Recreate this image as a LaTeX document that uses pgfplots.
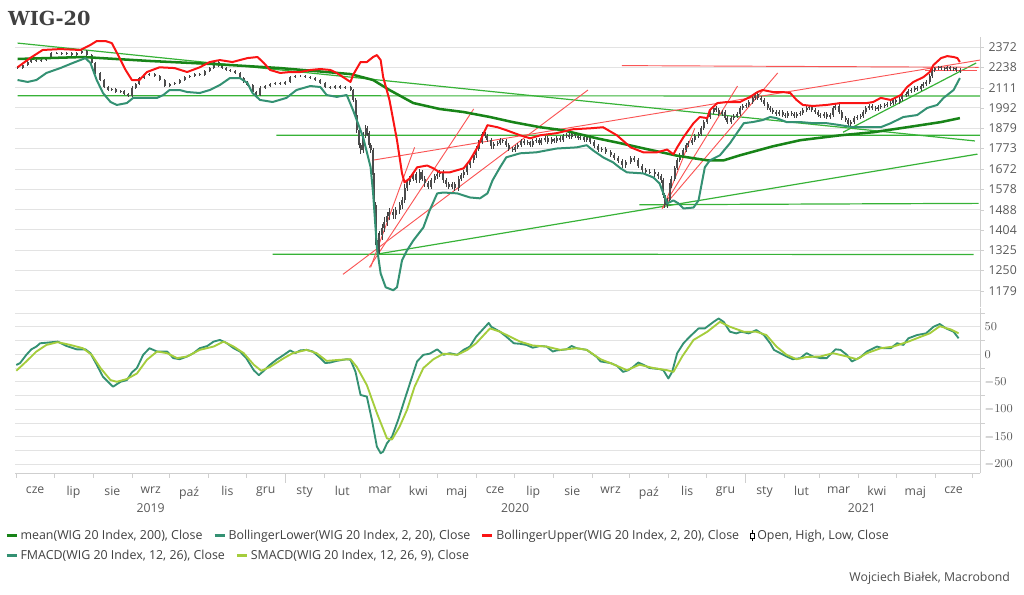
\documentclass[border=0pt]{standalone}
\usepackage{fontspec}
\setmainfont{Open Sans}
\newfontfamily\titlefont{DejaVu Serif}
\usepackage{pgfplots}
\usepackage{pgfplotstable}
\pgfplotsset{compat=1.18}

\definecolor{gridc}{HTML}{E3E3E3}
\definecolor{axisc}{HTML}{CFCFCF}
\definecolor{tickc}{HTML}{595959}
\definecolor{meanc}{RGB}{24,132,24}
\definecolor{lowc}{RGB}{52,145,115}
\definecolor{upc}{RGB}{250,20,20}
\definecolor{trendg}{RGB}{55,178,55}
\definecolor{trendr}{RGB}{250,85,85}
\definecolor{smacdc}{RGB}{165,205,60}

% WIG20 daily candles (sampled): day since 2019-06-01, open, high, low, close
\pgfplotstableread[row sep=\\]{
d o h l c\\
1 2240 2248 2225 2233\\
5 2233 2261 2225 2253\\
9 2253 2280 2245 2272\\
12 2272 2293 2264 2285\\
16 2285 2293 2271 2279\\
20 2279 2293 2271 2285\\
24 2285 2306 2277 2298\\
28 2298 2339 2290 2331\\
32 2331 2340 2323 2332\\
36 2332 2340 2317 2325\\
40 2325 2340 2317 2332\\
44 2332 2340 2310 2318\\
48 2318 2340 2310 2332\\
52 2332 2353 2324 2345\\
56 2345 2353 2310 2318\\
60 2318 2326 2258 2266\\
63 2266 2274 2194 2202\\
67 2202 2210 2150 2158\\
70 2158 2166 2107 2115\\
73 2115 2123 2089 2097\\
76 2097 2111 2089 2103\\
79 2103 2111 2077 2085\\
83 2085 2099 2077 2091\\
86 2091 2099 2065 2073\\
89 2073 2081 2054 2062\\
92 2062 2119 2054 2111\\
95 2111 2141 2103 2133\\
98 2133 2178 2125 2170\\
102 2170 2197 2162 2189\\
106 2189 2203 2181 2195\\
110 2195 2203 2175 2183\\
114 2183 2191 2150 2158\\
118 2158 2166 2113 2121\\
122 2121 2141 2113 2133\\
126 2133 2147 2125 2139\\
130 2139 2166 2131 2158\\
134 2158 2184 2150 2176\\
138 2176 2191 2168 2183\\
142 2183 2203 2175 2195\\
146 2195 2203 2181 2189\\
150 2189 2222 2181 2214\\
154 2214 2241 2206 2233\\
157 2233 2280 2225 2272\\
161 2272 2280 2238 2246\\
164 2246 2254 2225 2233\\
167 2233 2241 2213 2221\\
170 2221 2229 2206 2214\\
174 2214 2222 2194 2202\\
178 2202 2210 2162 2170\\
181 2170 2178 2138 2146\\
184 2146 2154 2119 2127\\
188 2127 2135 2077 2085\\
191 2085 2093 2059 2067\\
194 2067 2119 2059 2111\\
198 2111 2129 2103 2121\\
202 2121 2141 2113 2133\\
206 2133 2147 2125 2139\\
210 2139 2147 2125 2133\\
214 2133 2154 2125 2146\\
218 2146 2184 2138 2176\\
222 2176 2191 2168 2183\\
226 2183 2191 2175 2183\\
230 2183 2191 2168 2176\\
234 2176 2184 2162 2170\\
238 2170 2178 2150 2158\\
242 2158 2166 2131 2139\\
246 2139 2147 2107 2115\\
250 2115 2123 2103 2111\\
254 2111 2129 2103 2121\\
258 2121 2129 2103 2111\\
262 2111 2123 2103 2115\\
266 2115 2123 2089 2097\\
268 2097 2105 2025 2038\\
270 2038 2050 1940 1952\\
271 1952 1965 1855 1869\\
273 1869 1880 1775 1790\\
274 1790 1800 1745 1764\\
276 1764 1860 1750 1842\\
278 1842 1895 1830 1879\\
279 1879 1890 1840 1853\\
281 1853 1865 1775 1790\\
282 1790 1800 1750 1764\\
284 1764 1775 1630 1642\\
285 1642 1655 1490 1506\\
286 1506 1520 1345 1362\\
288 1362 1390 1300 1324\\
289 1324 1400 1310 1382\\
291 1382 1430 1365 1410\\
293 1410 1455 1395 1435\\
295 1435 1480 1420 1460\\
297 1460 1495 1445 1476\\
300 1476 1490 1450 1464\\
302 1464 1500 1450 1485\\
305 1485 1520 1470 1506\\
307 1506 1545 1490 1528\\
309 1528 1600 1515 1582\\
311 1582 1625 1570 1609\\
313 1609 1640 1595 1627\\
316 1627 1660 1615 1646\\
318 1646 1658 1605 1618\\
321 1618 1670 1605 1656\\
323 1656 1668 1615 1627\\
325 1627 1640 1590 1604\\
328 1604 1615 1578 1590\\
330 1590 1630 1578 1618\\
333 1618 1650 1605 1637\\
335 1637 1658 1625 1646\\
337 1646 1668 1634 1656\\
340 1656 1668 1605 1618\\
342 1618 1630 1588 1600\\
344 1600 1612 1578 1590\\
347 1590 1612 1578 1600\\
349 1600 1612 1570 1582\\
352 1582 1640 1570 1627\\
354 1627 1654 1615 1642\\
356 1642 1668 1630 1656\\
359 1656 1700 1645 1689\\
361 1689 1725 1678 1714\\
364 1714 1750 1703 1739\\
366 1739 1785 1728 1773\\
368 1773 1817 1762 1805\\
371 1805 1860 1795 1847\\
373 1847 1858 1826 1837\\
375 1837 1848 1805 1816\\
378 1816 1827 1773 1784\\
380 1784 1806 1773 1795\\
383 1795 1810 1784 1800\\
385 1800 1826 1790 1816\\
387 1816 1822 1800 1811\\
390 1811 1820 1780 1790\\
392 1790 1800 1762 1773\\
395 1773 1782 1754 1764\\
397 1764 1790 1754 1779\\
399 1779 1800 1769 1790\\
402 1790 1821 1780 1811\\
404 1811 1820 1790 1800\\
407 1800 1815 1790 1805\\
409 1805 1814 1780 1790\\
411 1790 1821 1780 1811\\
414 1811 1826 1800 1816\\
416 1816 1826 1790 1800\\
418 1800 1826 1790 1816\\
421 1816 1836 1806 1826\\
423 1826 1836 1795 1805\\
426 1805 1831 1795 1821\\
428 1821 1830 1801 1811\\
430 1811 1836 1801 1826\\
433 1826 1836 1806 1816\\
435 1816 1847 1806 1837\\
438 1837 1852 1827 1842\\
440 1842 1852 1822 1832\\
442 1832 1857 1822 1847\\
445 1847 1857 1827 1837\\
447 1837 1847 1816 1826\\
449 1826 1842 1816 1832\\
452 1832 1842 1806 1816\\
454 1816 1842 1806 1832\\
457 1832 1842 1795 1805\\
460 1805 1815 1774 1784\\
463 1784 1794 1754 1764\\
466 1764 1783 1754 1773\\
469 1773 1783 1744 1754\\
473 1754 1764 1729 1739\\
476 1739 1749 1714 1724\\
479 1724 1734 1699 1709\\
482 1709 1719 1679 1689\\
485 1689 1714 1679 1704\\
489 1704 1734 1694 1724\\
492 1724 1734 1704 1714\\
495 1714 1724 1675 1685\\
498 1685 1695 1655 1665\\
501 1665 1675 1646 1656\\
504 1656 1670 1646 1660\\
508 1660 1670 1636 1646\\
511 1646 1656 1627 1637\\
513 1637 1647 1608 1618\\
515 1618 1628 1540 1550\\
516 1550 1560 1495 1506\\
518 1506 1538 1496 1528\\
520 1528 1605 1518 1595\\
521 1595 1637 1585 1627\\
524 1627 1685 1617 1675\\
526 1675 1724 1665 1714\\
528 1714 1749 1704 1739\\
531 1739 1774 1729 1764\\
533 1764 1800 1754 1790\\
535 1790 1810 1780 1800\\
538 1800 1826 1790 1816\\
540 1816 1847 1806 1837\\
543 1837 1857 1827 1847\\
545 1847 1889 1837 1879\\
547 1879 1923 1869 1913\\
550 1913 1951 1903 1941\\
552 1941 1979 1931 1969\\
555 1969 2002 1959 1992\\
557 1992 2002 1970 1980\\
559 1980 1990 1948 1958\\
562 1958 1979 1948 1969\\
564 1969 1979 1925 1935\\
566 1935 1945 1903 1913\\
569 1913 1945 1903 1935\\
571 1935 1956 1925 1946\\
574 1946 1968 1936 1958\\
576 1958 2002 1948 1992\\
578 1992 2013 1982 2003\\
581 2003 2019 1993 2009\\
583 2009 2036 1999 2026\\
586 2026 2060 2016 2050\\
588 2050 2083 2040 2073\\
590 2073 2083 2040 2050\\
593 2050 2060 2028 2038\\
595 2038 2048 2005 2015\\
598 2015 2025 1982 1992\\
600 1992 2002 1970 1980\\
602 1980 1990 1959 1969\\
605 1969 1979 1948 1958\\
607 1958 1979 1948 1969\\
610 1969 1979 1942 1952\\
612 1952 1962 1936 1946\\
614 1946 1973 1936 1963\\
617 1963 1973 1948 1958\\
619 1958 1968 1936 1946\\
621 1946 1968 1936 1958\\
624 1958 1973 1948 1963\\
626 1963 1990 1953 1980\\
629 1980 2002 1970 1992\\
631 1992 2007 1982 1997\\
633 1997 2007 1970 1980\\
636 1980 1990 1959 1969\\
638 1969 1979 1942 1952\\
640 1952 1962 1936 1946\\
643 1946 1968 1936 1958\\
645 1958 1968 1931 1941\\
648 1941 1962 1931 1952\\
650 1952 2002 1942 1992\\
652 1992 2013 1982 2003\\
655 2003 2013 1959 1969\\
657 1969 1979 1925 1935\\
660 1935 1945 1914 1924\\
662 1924 1934 1892 1902\\
664 1902 1923 1892 1913\\
667 1913 1945 1903 1935\\
669 1935 1951 1925 1941\\
672 1941 1956 1931 1946\\
674 1946 1979 1936 1969\\
676 1969 2002 1959 1992\\
679 1992 2013 1982 2003\\
681 2003 2013 1982 1992\\
684 1992 2002 1976 1986\\
686 1986 2007 1976 1997\\
688 1997 2013 1987 2003\\
691 2003 2019 1993 2009\\
693 2009 2025 1999 2015\\
696 2015 2030 2005 2020\\
698 2020 2048 2010 2038\\
700 2038 2048 2016 2026\\
703 2026 2054 2016 2044\\
705 2044 2077 2034 2067\\
708 2067 2083 2057 2073\\
710 2073 2101 2063 2091\\
712 2091 2107 2081 2097\\
715 2097 2121 2087 2111\\
717 2111 2121 2093 2103\\
720 2103 2131 2093 2121\\
722 2121 2143 2111 2133\\
724 2133 2156 2123 2146\\
727 2146 2193 2136 2183\\
729 2183 2231 2173 2221\\
731 2221 2243 2211 2233\\
734 2233 2248 2223 2238\\
736 2238 2248 2223 2233\\
739 2233 2243 2217 2227\\
741 2227 2248 2217 2238\\
743 2238 2248 2217 2227\\
746 2227 2243 2217 2233\\
748 2233 2243 2211 2221\\
751 2221 2231 2204 2214\\
}\candles

\begin{document}
\begin{tikzpicture}
\path[use as bounding box] (0,0) rectangle (768pt,446.25pt);

\node[anchor=west, font=\titlefont\bfseries\fontsize{14.5}{16}\selectfont, text=black!75] at (2.5pt,432.3pt) {WIG-20};

% ---------- price panel ----------
\begin{axis}[
  scale only axis, width=723.7pt, height=202.6pt,
  at={(11.28pt,215.85pt)}, anchor=south west,
  xmin=-1, xmax=767, ymode=log, ymin=1125, ymax=2441,
  axis x line=none, axis y line*=right,
  y axis line style={axisc, line width=0.6pt},
  xtick=\empty, yminorticks=false,
  ytick={1179,1250,1325,1404,1488,1578,1672,1773,1879,1992,2111,2238,2372},
  yticklabels={1179,1250,1325,1404,1488,1578,1672,1773,1879,1992,2111,2238,2372},
  ymajorgrids, grid style={gridc, line width=0.7pt},
  tick align=outside, major tick length=3pt, ytick style={axisc},
  yticklabel style={font=\fontsize{9.2}{10}\selectfont, text=tickc},
  legend image code/.code={\draw[#1, line width=2pt] (0pt,0pt) -- (7.5pt,0pt);},
  legend style={at={(-0.0104,-0.846)}, anchor=west, draw=none, fill=none,
    legend columns=-1, font=\fontsize{9.3}{10}\selectfont, text=black!75,
    inner sep=0pt, /tikz/every even column/.append style={column sep=6pt}},
  legend cell align=left,
]
% green trend lines (horizontal levels get a hair of slope so they keep their colour)
\addplot[trendg, line width=0.9pt, forget plot] coordinates {(1,2399) (763,1812)};
\addplot[trendg, line width=0.9pt, forget plot] coordinates {(1,2062.5) (767,2061.5)};
\addplot[trendg, line width=0.9pt, forget plot] coordinates {(207,1842.5) (767,1841.5)};
\addplot[trendg, line width=0.9pt, forget plot] coordinates {(204,1309.5) (762,1308.5)};
\addplot[trendg, line width=0.9pt, forget plot] coordinates {(286,1309) (765,1745)};
\addplot[trendg, line width=0.9pt, forget plot] coordinates {(496,1509) (766,1515)};
\addplot[trendg, line width=0.9pt, forget plot] coordinates {(658,1858) (764,2266)};
% red trend lines
\addplot[trendr, line width=0.7pt, forget plot] coordinates {(482,2249) (766,2238)};
\addplot[trendr, line width=0.7pt, forget plot] coordinates {(283,1714) (767,2285)};
\addplot[trendr, line width=0.7pt, forget plot] coordinates {(723,2221) (765,2221)};
\addplot[trendr, line width=0.7pt, forget plot] coordinates {(260,1236) (455,2097)};
\addplot[trendr, line width=0.7pt, forget plot] coordinates {(281,1261) (364,1986)};
\addplot[trendr, line width=0.7pt, forget plot] coordinates {(282,1261) (317,1779)};
\addplot[trendr, line width=0.7pt, forget plot] coordinates {(514,1493) (574,2121)};
\addplot[trendr, line width=0.7pt, forget plot] coordinates {(514,1493) (606,2202)};
\addplot[trendr, line width=0.7pt, forget plot] coordinates {(515,1497) (540,1879)};

% candles: wicks then bodies
\addplot[draw=none, mark=none, forget plot,
  error bars/.cd, y dir=both, y explicit, error mark=none,
  error bar style={draw=black!75, line width=0.5pt}]
  table[x=d, y=c, y error plus expr=\thisrow{h}-\thisrow{c},
        y error minus expr=\thisrow{c}-\thisrow{l}] {\candles};
\addplot[draw=none, mark=none, forget plot,
  error bars/.cd, y dir=both, y explicit, error mark=none,
  error bar style={draw=black!70, line width=1.5pt}]
  table[x=d, y=o, y error plus expr={max(\thisrow{c}-\thisrow{o},0)},
        y error minus expr={max(\thisrow{o}-\thisrow{c},0)}] {\candles};

% mean(200)
\addplot[meanc, line width=1.9pt, line join=round] coordinates {
(1,2292) (53,2305) (106,2279) (157,2259) (210,2233) (266,2195) (284,2158)
(297,2097) (316,2020) (337,1986) (356,1969) (377,1941) (395,1913) (417,1885)
(435,1869) (462,1826) (481,1800) (502,1770) (526,1737) (550,1714) (563,1714)
(576,1739) (602,1784) (624,1816) (656,1842) (682,1858) (709,1885) (736,1913) (751,1935)};
\addlegendentry{mean(WIG 20 Index, 200), Close}

% Bollinger lower
\addplot[lowc, line width=1.5pt, line join=round] coordinates {
(1,2158) (9,2146) (16,2158) (24,2202) (35,2233) (45,2266) (55,2298) (59,2266)
(64,2158) (69,2079) (75,2026) (80,2009) (88,2020) (93,2050) (101,2050) (112,2050)
(117,2067) (122,2097) (130,2097) (136,2085) (146,2079) (154,2097) (162,2127)
(170,2170) (178,2170) (184,2139) (188,2079) (194,2038) (204,2026) (215,2050)
(223,2097) (234,2121) (242,2115) (247,2067) (255,2056) (263,2067) (268,1980)
(276,1832) (282,1680) (284,1559) (287,1335) (290,1239) (294,1191) (300,1181)
(303,1191) (307,1287) (311,1324) (316,1362) (324,1414) (329,1485) (335,1559)
(340,1563) (351,1559) (361,1541) (369,1537) (375,1559) (379,1618) (385,1680)
(390,1729) (401,1749) (414,1754) (430,1773) (446,1779) (454,1790) (459,1764)
(467,1729) (475,1704) (481,1675) (486,1656) (499,1651) (507,1632) (512,1604)
(515,1559) (518,1515) (523,1528) (527,1515) (531,1493) (539,1497) (543,1528)
(546,1618) (548,1680) (552,1714) (560,1739) (568,1800) (574,1858) (579,1907)
(586,1913) (594,1924) (600,1941) (605,1935) (613,1913) (624,1913) (634,1907)
(645,1907) (656,1896) (666,1885) (677,1885) (688,1885) (696,1907) (706,1941)
(717,1952) (725,1992) (733,2009) (738,2050) (746,2097) (751,2170)};
\addlegendentry{BollingerLower(WIG 20 Index, 2, 20), Close}

% Bollinger upper
\addplot[upc, line width=1.5pt, line join=round] coordinates {
(1,2238) (11,2298) (21,2352) (35,2358) (51,2352) (59,2386) (64,2413) (71,2413)
(76,2399) (81,2318) (87,2221) (92,2158) (98,2158) (104,2208) (114,2238) (126,2233)
(136,2208) (146,2238) (154,2272) (162,2285) (172,2272) (184,2298) (192,2305)
(197,2266) (202,2221) (210,2202) (218,2208) (226,2208) (234,2221) (242,2227)
(250,2221) (255,2202) (266,2146) (268,2189) (274,2272) (279,2272) (284,2305)
(287,2318) (290,2285) (292,2176) (297,2038) (303,1816) (307,1651) (309,1609)
(313,1627) (319,1680) (327,1689) (332,1675) (337,1656) (345,1656) (356,1675)
(361,1714) (367,1779) (372,1853) (375,1896) (383,1885) (390,1869) (401,1842)
(409,1826) (417,1842) (430,1853) (443,1874) (457,1879) (467,1885) (478,1842)
(489,1779) (499,1754) (510,1754) (518,1768) (523,1744) (526,1779) (531,1832)
(539,1907) (544,1941) (550,1935) (552,1980) (558,2020) (566,2026) (576,2026)
(584,2056) (590,2085) (594,2097) (602,2085) (610,2085) (616,2079) (621,2038)
(626,2009) (634,2003) (645,2009) (656,2020) (666,2020) (677,2020) (682,2026)
(688,2050) (696,2038) (704,2067) (709,2115) (714,2146) (722,2176) (727,2208)
(730,2253) (736,2298) (741,2311) (746,2305) (749,2298) (751,2272)};
\addlegendentry{BollingerUpper(WIG 20 Index, 2, 20), Close}

\addlegendimage{legend image code/.code={
  \draw[black, line width=0.6pt] (3.5pt,-4pt) -- (3.5pt,4pt);
  \draw[black, fill=white, line width=0.6pt] (2pt,-2pt) rectangle (5pt,2pt);}}
\addlegendentry{Open, High, Low, Close}
\end{axis}

% ---------- MACD panel ----------
\begin{axis}[
  scale only axis, width=723.7pt, height=124.3pt,
  at={(11.28pt,91.3pt)}, anchor=south west,
  xmin=-1, xmax=767, ymin=-216.4, ymax=85,
  axis x line*=bottom, axis y line*=right,
  axis line style={axisc, line width=0.6pt},
  ytick={-200,-150,-100,-50,0,50},
  minor ytick={-175,-125,-75,-25,25,75},
  ymajorgrids, yminorgrids,
  grid style={gridc, line width=0.7pt}, minor grid style={gridc, line width=0.7pt},
  xtick={15,45.5,76.5,107,137.5,168,198.5,229.5,259.5,289.5,320,350.5,381,411.5,442.5,473,503.5,534,564.5,595.5,625,654.5,685,715.5,746},
  xticklabels={cze,lip,sie,wrz,paź,lis,gru,sty,lut,mar,kwi,maj,cze,lip,sie,wrz,paź,lis,gru,sty,lut,mar,kwi,maj,cze},
  minor xtick={0,30,61,92,122,153,183,245,274,305,335,366,396,427,458,488,519,549,611,639,670,700,731,761},
  extra x ticks={214,580}, extra x tick labels={{},{}},
  extra x tick style={major tick length=7pt, tick style={axisc}},
  tick align=outside, major tick length=0pt, minor tick length=3.5pt,
  tick style={axisc},
  ticklabel style={font=\fontsize{9.2}{10}\selectfont, text=tickc},
  xticklabel style={yshift=-6.5pt},
  legend image code/.code={\draw[#1, line width=2pt] (0pt,0pt) -- (7.5pt,0pt);},
  legend style={at={(-0.0104,-0.497)}, anchor=west, draw=none, fill=none,
    legend columns=-1, font=\fontsize{9.3}{10}\selectfont, text=black!75,
    inner sep=0pt, /tikz/every even column/.append style={column sep=6pt}},
  legend cell align=left,
]
\addplot[lowc, line width=1.4pt, line join=round] coordinates {
(0,-19.5) (3,-16) (8,-1) (12,9) (16,14) (19,20) (24,21) (33,23) (40,15) (48,9)
(55,9) (59,2) (64,-19) (69,-41) (77,-59) (83,-50) (88,-47) (92,-33) (96,-25)
(101,-1) (106,11) (112,5) (120,5) (125,-7) (130,-9) (136,-4) (141,2) (146,11)
(152,15) (157,23) (162,26) (167,21) (173,11) (178,5) (183,-7) (189,-29) (193,-38)
(197,-30) (202,-19) (207,-10) (213,-1) (218,7) (222,2) (226,7) (231,8) (236,5)
(242,-7) (246,-16) (250,-15) (255,-12) (263,-9) (266,-10) (270,-32) (274,-74)
(279,-77) (283,-119) (287,-168) (290,-180) (292,-177) (295,-162) (299,-150)
(304,-119) (309,-83) (315,-41) (319,-13) (324,-1) (329,1) (335,9) (340,-1)
(345,2) (351,-1) (356,8) (361,14) (366,32) (372,47) (376,57) (378,50) (385,41)
(390,32) (396,20) (401,19) (406,17) (411,12) (417,15) (422,14) (427,5) (430,7)
(438,9) (442,15) (446,11) (454,8) (462,-5) (465,-13) (473,-16) (478,-21)
(483,-32) (487,-29) (491,-23) (495,-15) (499,-19) (504,-25) (512,-27) (515,-29)
(519,-44) (522,-32) (526,2) (531,20) (536,32) (543,47) (548,47) (555,59)
(559,65) (563,59) (568,41) (573,38) (577,41) (583,38) (589,44) (595,35)
(600,20) (603,8) (608,2) (613,-4) (618,-9) (624,-7) (629,2) (634,-4) (640,-7)
(645,-7) (652,9) (656,8) (661,-1) (665,-13) (672,-5) (677,5) (685,14) (690,11)
(696,11) (701,20) (706,17) (710,29) (717,35) (724,38) (730,50) (735,55)
(740,47) (746,41) (750,29)};
\addlegendentry{FMACD(WIG 20 Index, 12, 26), Close}
\addplot[smacdc, line width=1.4pt, line join=round] coordinates {
(0,-30) (8,-13) (16,5) (24,17) (33,22) (43,17) (53,11) (60,-1) (67,-25) (75,-47)
(80,-50) (88,-45) (96,-35) (104,-10) (112,5) (120,2) (128,-7) (136,-4) (146,8)
(157,14) (165,23) (173,14) (181,2) (189,-19) (195,-30) (202,-23) (213,-7)
(220,2) (231,8) (239,2) (247,-12) (258,-10) (266,-9) (271,-23) (279,-56)
(287,-107) (295,-153) (299,-155) (305,-132) (311,-101) (317,-59) (324,-25)
(332,-9) (340,1) (351,-1) (359,8) (366,20) (377,47) (385,41) (393,32) (401,23)
(411,16) (422,14) (433,8) (446,11) (454,8) (465,-9) (475,-18) (486,-29)
(496,-19) (507,-25) (518,-29) (523,-32) (530,-4) (539,26) (550,41) (560,59)
(568,50) (579,41) (589,41) (597,35) (605,14) (613,-1) (621,-9) (629,-5)
(640,-4) (650,2) (661,-4) (669,-9) (677,2) (688,11) (698,14) (710,23) (720,32)
(727,38) (735,51) (744,45) (750,38)};
\addlegendentry{SMACD(WIG 20 Index, 12, 26, 9), Close}
\end{axis}

% year labels under the month row
\node[font=\fontsize{9.2}{10}\selectfont, text=tickc] at (113pt,65.25pt) {2019};
\node[font=\fontsize{9.2}{10}\selectfont, text=tickc] at (386.3pt,65.25pt) {2020};
\node[font=\fontsize{9.2}{10}\selectfont, text=tickc] at (646.4pt,65.25pt) {2021};

\node[anchor=east, font=\fontsize{9.2}{10}\selectfont, text=black!70] at (761pt,12.75pt) {Wojciech Białek, Macrobond};
\end{tikzpicture}
\end{document}
